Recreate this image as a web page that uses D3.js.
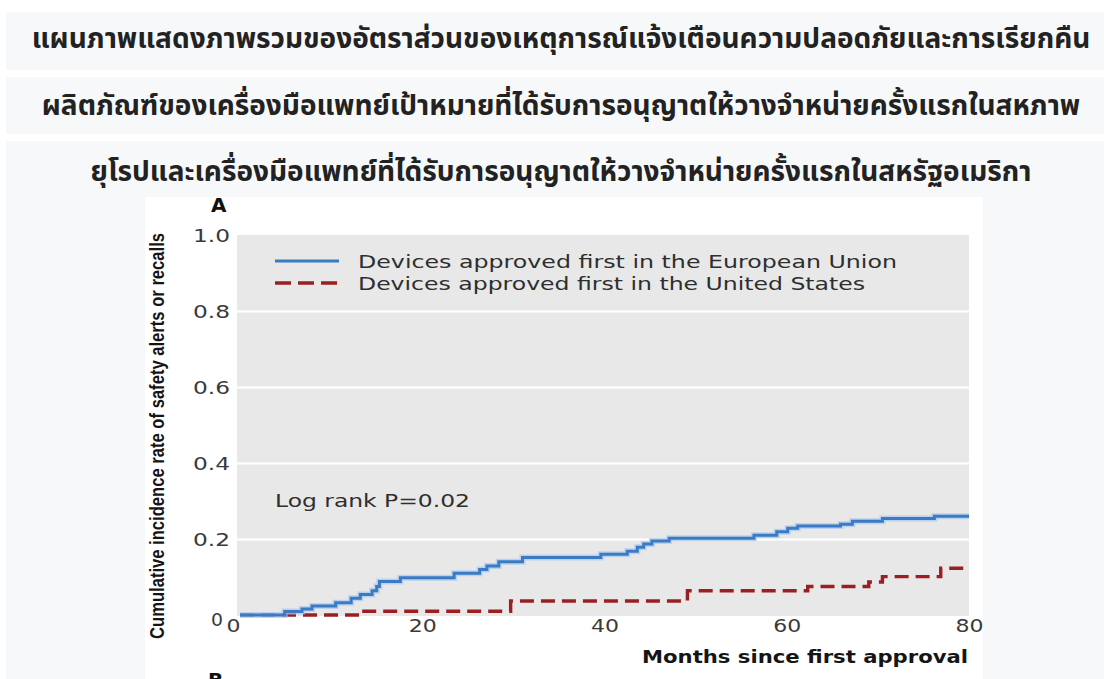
<!DOCTYPE html>
<html>
<head>
<meta charset="utf-8">
<script src="https://cdn.jsdelivr.net/npm/d3@7"></script>
<style>
  body { margin: 0; background: #ffffff; }
  svg { display: block; }
</style>
</head>
<body>
<svg id="chart" width="1110" height="679"></svg>
<script>
// Heading, three lines
const titleLines = [
  "แผนภาพแสดงภาพรวมของอัตราส่วนของเหตุการณ์แจ้งเตือนความปลอดภัยและการเรียกคืน",
  "ผลิตภัณฑ์ของเครื่องมือแพทย์เป้าหมายที่ได้รับการอนุญาตให้วางจำหน่ายครั้งแรกในสหภาพ",
  "ยุโรปและเครื่องมือแพทย์ที่ได้รับการอนุญาตให้วางจำหน่ายครั้งแรกในสหรัฐอเมริกา"
];

// Cumulative incidence, step changes (month, rate)
const euMonths = [0, 4.9, 6.8, 7.9, 10.5, 12.2, 13.2, 14.5, 15.0, 15.3, 17.6, 23.5, 26.3, 27.1, 28.4, 31.0, 39.6, 42.5, 43.6, 44.3, 45.2, 47.1, 56.4, 58.9, 60.1, 61.2, 65.9, 67.2, 70.5, 76.2, 80];
const euValues = [0, 0.009, 0.016, 0.024, 0.032, 0.044, 0.054, 0.064, 0.075, 0.088, 0.098, 0.110, 0.120, 0.129, 0.140, 0.151, 0.160, 0.168, 0.178, 0.187, 0.195, 0.202, 0.210, 0.219, 0.228, 0.234, 0.239, 0.247, 0.254, 0.260, 0.260];
const usMonths = [0, 13.4, 29.7, 49.1, 62.3, 69.0, 70.5, 76.9, 80];
const usValues = [0, 0.010, 0.037, 0.064, 0.075, 0.087, 0.101, 0.123, 0.123];

const seriesNames = ["Devices approved first in the European Union", "Devices approved first in the United States"];
const xTicks = [0, 20, 40, 60, 80];
const yTicks = [0, 0.2, 0.4, 0.6, 0.8, 1.0];
const xTitle = "Months since first approval";
const yTitle = "Cumulative incidence rate of safety alerts or recalls";
const annotation = "Log rank P=0.02";
const panelLabels = ["A", "B"];

const svg = d3.select("#chart");
const bandFill = "#f7f8fa";

// Heading bands
svg.append("rect").attr("x", 6).attr("y", 12).attr("width", 1098).attr("height", 58).attr("fill", bandFill);
svg.append("rect").attr("x", 6).attr("y", 77).attr("width", 1098).attr("height", 57).attr("fill", bandFill);
svg.append("rect").attr("x", 6).attr("y", 141).attr("width", 1098).attr("height", 538).attr("fill", bandFill);

const titleY = [48, 115, 181];
svg.selectAll("text.title").data(titleLines).enter().append("text")
  .attr("class", "title")
  .attr("x", 561).attr("y", (d, i) => titleY[i])
  .attr("text-anchor", "middle")
  .attr("font-family", "'Noto Sans Thai', 'Noto Sans', sans-serif")
  .attr("font-weight", "bold").attr("font-size", 28)
  .attr("fill", "#222")
  .text(d => d);

// Figure panel
const panel = { x: 145, y: 197, w: 838, h: 482 };
svg.append("rect").attr("x", panel.x).attr("y", panel.y).attr("width", panel.w).attr("height", panel.h).attr("fill", "#ffffff");
svg.append("clipPath").attr("id", "panelClip").append("rect")
  .attr("x", panel.x).attr("y", panel.y).attr("width", panel.w).attr("height", panel.h);
const g = svg.append("g").attr("clip-path", "url(#panelClip)");

const x = d3.scaleLinear().domain([0, 80]).range([240, 969]);
const y = d3.scaleLinear().domain([0, 1]).range([615, 235]);

// plot background
g.append("rect").attr("x", 237).attr("y", y(1)).attr("width", 969 - 237).attr("height", y(0) - y(1) + 1).attr("fill", "#e8e8e8");

// gridlines
const grid = g.append("g").attr("transform", "translate(237,0)")
  .call(d3.axisLeft(y).tickValues(yTicks.filter(v => v > 0 && v < 1)).tickSize(-(969 - 237)).tickFormat(""));
grid.select(".domain").remove();
grid.selectAll("line").attr("stroke", "#ffffff").attr("stroke-width", 2);

const tickFont = "'DejaVu Sans', Verdana, sans-serif";

// y axis labels
const yAxis = g.append("g").attr("transform", "translate(237,0)")
  .call(d3.axisLeft(y).tickValues(yTicks).tickSize(0).tickPadding(7)
    .tickFormat(d => d === 0 ? "0" : d3.format(".1f")(d)));
yAxis.select(".domain").remove();
yAxis.selectAll("text")
  .attr("font-family", tickFont).attr("font-size", 17).attr("fill", "#3a3a3a")
  .attr("textLength", d => d === 0 ? 12 : 37).attr("lengthAdjust", "spacingAndGlyphs")
  .attr("dx", d => d === 0 ? -7 : 0)
  .attr("dy", d => d === 0 ? "0.62em" : "0.38em");

// x axis labels
const xAxis = g.append("g").attr("transform", `translate(0,${y(0)})`)
  .call(d3.axisBottom(x).tickValues(xTicks).tickSize(0).tickPadding(5).tickFormat(d3.format("d")));
xAxis.select(".domain").remove();
xAxis.selectAll("text")
  .attr("font-family", tickFont).attr("font-size", 17).attr("fill", "#3a3a3a")
  .attr("textLength", d => d === 0 ? 14 : 28).attr("lengthAdjust", "spacingAndGlyphs")
  .attr("dx", d => d === 0 ? -7 : 0);

// step curves
const stepLine = d3.line().x(d => x(d[0])).y(d => y(d[1])).curve(d3.curveStepAfter);
const usData = usMonths.map((m, i) => [m, usValues[i]]);
const euData = euMonths.map((m, i) => [m, euValues[i]]);

const blue = "#3b7bc6", red = "#9b1f22";

g.append("path").datum(usData).attr("d", stepLine)
  .attr("fill", "none").attr("stroke", red).attr("stroke-width", 3.4)
  .attr("stroke-dasharray", "14,7");

g.append("path").datum(euData).attr("d", stepLine)
  .attr("fill", "none").attr("stroke", "#a9c8ec").attr("stroke-width", 6).attr("stroke-opacity", 0.7);
g.append("path").datum(euData).attr("d", stepLine)
  .attr("fill", "none").attr("stroke", blue).attr("stroke-width", 3);

// legend
const legendY = [261, 283];
g.append("line").attr("x1", 275).attr("x2", 339).attr("y1", legendY[0]).attr("y2", legendY[0])
  .attr("stroke", blue).attr("stroke-width", 3);
g.append("line").attr("x1", 275).attr("x2", 339).attr("y1", legendY[1]).attr("y2", legendY[1])
  .attr("stroke", red).attr("stroke-width", 3.4).attr("stroke-dasharray", "16,7");
const legendLen = [539, 507];
g.selectAll("text.legend").data(seriesNames).enter().append("text")
  .attr("class", "legend")
  .attr("x", 358).attr("y", (d, i) => legendY[i] + 7)
  .attr("font-family", tickFont).attr("font-size", 17.5).attr("fill", "#2e2e2e")
  .attr("textLength", (d, i) => legendLen[i]).attr("lengthAdjust", "spacingAndGlyphs")
  .text(d => d);

// log-rank note
g.append("text").attr("x", 275).attr("y", 507)
  .attr("font-family", tickFont).attr("font-size", 17.5).attr("fill", "#2e2e2e")
  .attr("textLength", 195).attr("lengthAdjust", "spacingAndGlyphs")
  .text(annotation);

// axis titles
g.append("text").attr("x", 968).attr("y", 663).attr("text-anchor", "end")
  .attr("font-family", tickFont).attr("font-weight", "bold").attr("font-size", 18).attr("fill", "#151515")
  .attr("textLength", 326).attr("lengthAdjust", "spacingAndGlyphs")
  .text(xTitle);

g.append("text").attr("transform", "translate(164,436) rotate(-90)")
  .attr("text-anchor", "middle")
  .attr("font-family", "'Liberation Sans Narrow', 'Liberation Sans', sans-serif")
  .attr("font-weight", "bold").attr("font-size", 20).attr("fill", "#151515")
  .attr("textLength", 406).attr("lengthAdjust", "spacingAndGlyphs")
  .text(yTitle);

// panel letters
g.append("text").attr("x", 211).attr("y", 212)
  .attr("font-family", tickFont).attr("font-weight", "bold").attr("font-size", 20).attr("fill", "#111")
  .text(panelLabels[0]);
g.append("text").attr("x", 208).attr("y", 687)
  .attr("font-family", tickFont).attr("font-weight", "bold").attr("font-size", 20).attr("fill", "#111")
  .text(panelLabels[1]);
</script>
</body>
</html>
